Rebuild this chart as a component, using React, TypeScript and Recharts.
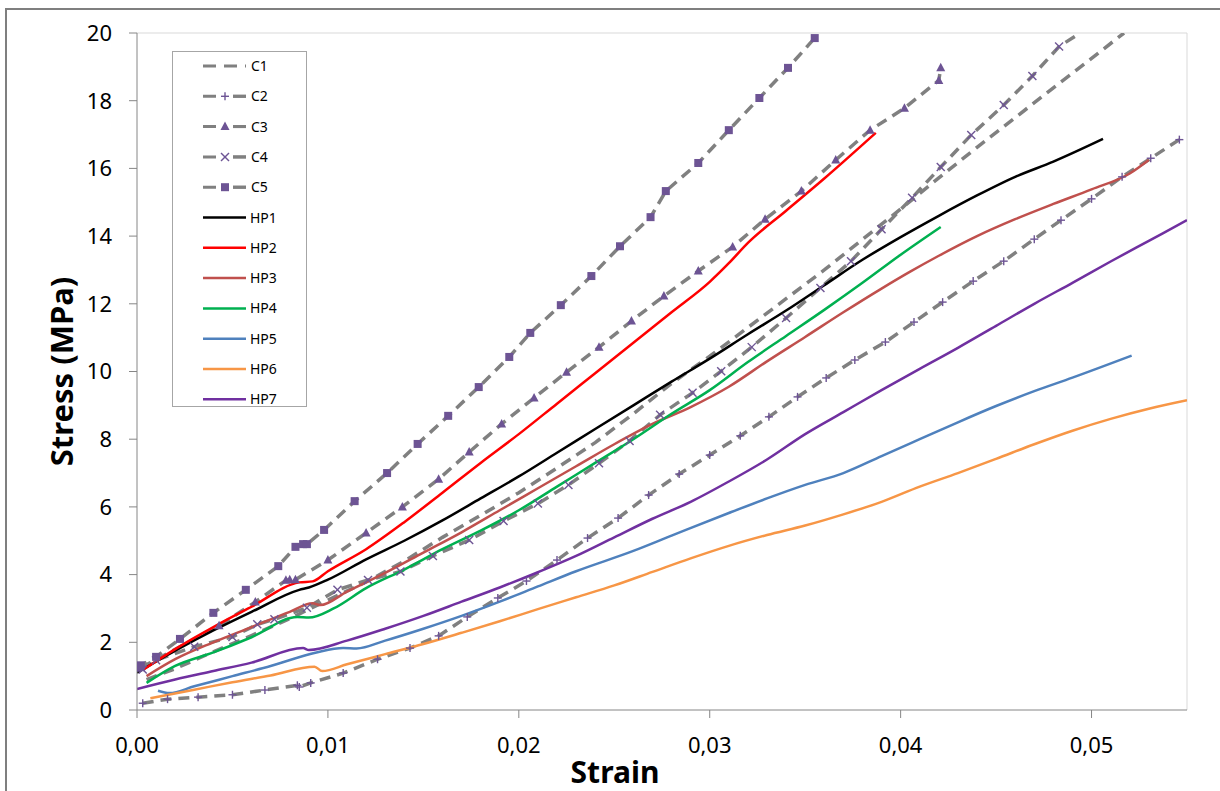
import React from "react"
import { LineChart, Line, XAxis, YAxis, Legend, ReferenceLine } from "recharts"

// strain / stress pairs
const C1 = [[0.0005, 0.9], [0.002, 1.22], [0.004, 1.72], [0.006, 2.2], [0.008, 2.7], [0.01, 3.25], [0.012, 3.78], [0.014, 4.4], [0.016, 5.1], [0.018, 5.75], [0.02, 6.42], [0.022, 7.15], [0.024, 7.9], [0.026, 8.75], [0.028, 9.65], [0.03, 10.45], [0.032, 11.3], [0.034, 12.15], [0.036, 13.0], [0.038, 13.9], [0.04, 14.8], [0.042, 15.72], [0.044, 16.62], [0.046, 17.5], [0.048, 18.38], [0.05, 19.25], [0.0517, 20]]
const C2 = [[0.0003, 0.2], [0.0016, 0.32], [0.0032, 0.38], [0.005, 0.45], [0.0067, 0.59], [0.0084, 0.73], [0.0085, 0.68], [0.0091, 0.8], [0.0108, 1.09], [0.0126, 1.5], [0.0143, 1.83], [0.0158, 2.19], [0.0173, 2.75], [0.0189, 3.31], [0.0204, 3.81], [0.022, 4.43], [0.0236, 5.08], [0.0252, 5.67], [0.0268, 6.35], [0.0284, 6.97], [0.03, 7.53], [0.0316, 8.1], [0.0331, 8.66], [0.0346, 9.25], [0.0361, 9.81], [0.0376, 10.34], [0.0392, 10.87], [0.0407, 11.46], [0.0422, 12.05], [0.0438, 12.67], [0.0454, 13.26], [0.047, 13.91], [0.0484, 14.47], [0.05, 15.1], [0.0516, 15.75], [0.0531, 16.3], [0.0546, 16.85]]
const C3 = [[0.0002, 1.25], [0.0043, 2.49], [0.0062, 3.19], [0.0078, 3.83], [0.008, 3.85], [0.0083, 3.85], [0.01, 4.43], [0.012, 5.23], [0.0139, 6.0], [0.0158, 6.82], [0.0174, 7.62], [0.0191, 8.45], [0.0208, 9.22], [0.0225, 9.98], [0.0242, 10.72], [0.0259, 11.49], [0.0276, 12.23], [0.0294, 12.97], [0.0312, 13.68], [0.0329, 14.5], [0.0348, 15.33], [0.0366, 16.25], [0.0384, 17.13], [0.0402, 17.78], [0.042, 18.6], [0.0421, 18.97]]
const C4 = [[0.0003, 1.2], [0.001, 1.47], [0.003, 1.87], [0.005, 2.16], [0.0063, 2.53], [0.0072, 2.68], [0.0089, 3.02], [0.0105, 3.55], [0.0121, 3.84], [0.0138, 4.09], [0.0155, 4.55], [0.0174, 5.02], [0.0192, 5.58], [0.021, 6.1], [0.0226, 6.65], [0.0242, 7.29], [0.0258, 7.95], [0.0274, 8.72], [0.0291, 9.37], [0.0306, 10.01], [0.0322, 10.72], [0.034, 11.58], [0.0358, 12.47], [0.0374, 13.26], [0.039, 14.2], [0.0406, 15.13], [0.0421, 16.04], [0.0437, 16.99], [0.0454, 17.87], [0.0469, 18.73], [0.0483, 19.6], [0.0494, 20]]
const C5 = [[0, 1.25], [0.0002, 1.32], [0.001, 1.57], [0.00225, 2.1], [0.004, 2.87], [0.0057, 3.55], [0.0074, 4.25], [0.0083, 4.82], [0.0087, 4.9], [0.0089, 4.9], [0.0098, 5.32], [0.0114, 6.17], [0.0131, 7.0], [0.0147, 7.86], [0.0163, 8.69], [0.0179, 9.54], [0.0195, 10.43], [0.0206, 11.14], [0.0222, 11.96], [0.0238, 12.82], [0.0253, 13.7], [0.0269, 14.56], [0.0277, 15.33], [0.0294, 16.16], [0.031, 17.13], [0.0326, 18.08], [0.0341, 18.97], [0.0355, 19.85]]

const HP1 = [[0, 1.1], [0.002, 1.75], [0.004, 2.35], [0.006, 2.9], [0.0085, 3.55], [0.009, 3.62], [0.01, 3.85], [0.012, 4.45], [0.014, 5.0], [0.016, 5.6], [0.018, 6.25], [0.02, 6.9], [0.022, 7.6], [0.024, 8.3], [0.026, 9.0], [0.028, 9.7], [0.03, 10.38], [0.032, 11.1], [0.034, 11.8], [0.036, 12.55], [0.038, 13.3], [0.04, 13.97], [0.042, 14.6], [0.044, 15.2], [0.046, 15.75], [0.048, 16.2], [0.0506, 16.87]]
const HP2 = [[0.0003, 1.18], [0.002, 1.8], [0.004, 2.45], [0.006, 3.05], [0.0085, 3.77], [0.0092, 3.8], [0.01, 4.1], [0.012, 4.75], [0.014, 5.55], [0.016, 6.42], [0.018, 7.3], [0.02, 8.15], [0.022, 9.05], [0.024, 9.95], [0.026, 10.85], [0.028, 11.75], [0.03, 12.65], [0.031, 13.2], [0.032, 13.8], [0.034, 14.75], [0.036, 15.7], [0.0387, 17.05]]
const HP3 = [[0.0005, 1.0], [0.002, 1.5], [0.004, 2.0], [0.006, 2.45], [0.008, 2.9], [0.0092, 3.15], [0.0096, 3.1], [0.011, 3.5], [0.013, 4.05], [0.015, 4.65], [0.017, 5.25], [0.019, 5.9], [0.021, 6.55], [0.023, 7.2], [0.025, 7.85], [0.027, 8.45], [0.029, 8.95], [0.031, 9.55], [0.033, 10.3], [0.035, 11.02], [0.037, 11.75], [0.039, 12.45], [0.0405, 12.95], [0.042, 13.42], [0.044, 14.0], [0.046, 14.5], [0.048, 14.95], [0.05, 15.38], [0.052, 15.85], [0.053, 16.25]]
const HP4 = [[0.0005, 0.8], [0.002, 1.3], [0.004, 1.7], [0.006, 2.15], [0.0084, 2.75], [0.009, 2.73], [0.0103, 3.0], [0.012, 3.6], [0.014, 4.15], [0.016, 4.75], [0.018, 5.3], [0.02, 5.9], [0.022, 6.6], [0.024, 7.3], [0.026, 8.0], [0.028, 8.75], [0.03, 9.45], [0.032, 10.28], [0.034, 11.05], [0.036, 11.82], [0.038, 12.62], [0.04, 13.45], [0.0421, 14.27]]
const HP5 = [[0.0011, 0.57], [0.0017, 0.5], [0.003, 0.7], [0.005, 1.0], [0.007, 1.3], [0.0094, 1.7], [0.0108, 1.83], [0.0115, 1.82], [0.013, 2.05], [0.015, 2.4], [0.017, 2.78], [0.019, 3.2], [0.021, 3.65], [0.023, 4.1], [0.026, 4.7], [0.028, 5.15], [0.031, 5.82], [0.033, 6.25], [0.035, 6.65], [0.037, 7.0], [0.039, 7.5], [0.041, 8.0], [0.043, 8.5], [0.045, 8.98], [0.047, 9.42], [0.049, 9.82], [0.0521, 10.47]]
const HP6 = [[0.0007, 0.35], [0.003, 0.6], [0.005, 0.82], [0.007, 1.02], [0.0093, 1.28], [0.0097, 1.15], [0.011, 1.35], [0.013, 1.65], [0.015, 1.95], [0.017, 2.28], [0.019, 2.62], [0.021, 2.98], [0.023, 3.33], [0.025, 3.68], [0.027, 4.08], [0.029, 4.48], [0.031, 4.85], [0.033, 5.17], [0.035, 5.45], [0.037, 5.78], [0.039, 6.15], [0.041, 6.6], [0.043, 7.0], [0.045, 7.42], [0.047, 7.85], [0.049, 8.25], [0.051, 8.6], [0.053, 8.9], [0.055, 9.15]]
const HP7 = [[0, 0.62], [0.002, 0.9], [0.004, 1.15], [0.006, 1.4], [0.0087, 1.83], [0.009, 1.77], [0.011, 2.05], [0.013, 2.4], [0.015, 2.78], [0.017, 3.2], [0.019, 3.62], [0.021, 4.07], [0.023, 4.55], [0.025, 5.1], [0.027, 5.65], [0.029, 6.15], [0.031, 6.75], [0.033, 7.4], [0.035, 8.15], [0.037, 8.8], [0.039, 9.45], [0.041, 10.08], [0.043, 10.7], [0.045, 11.35], [0.047, 12.0], [0.049, 12.62], [0.051, 13.25], [0.053, 13.86], [0.055, 14.47]]

const X_TICKS = [0, 0.01, 0.02, 0.03, 0.04, 0.05]
const Y_TICKS = [0, 2, 4, 6, 8, 10, 12, 14, 16, 18, 20]

const MARK = "#6D5494"
const DASH_GREY = "#808080"
const FONT = "'Noto Sans', 'Open Sans', sans-serif"

const toRows = (pts: number[][]) => pts.map(([x, y]) => ({ x, y }))

type Shape = "none" | "plus" | "tri" | "cross" | "square"

const dashed: { name: string; pts: number[][]; shape: Shape }[] = [
  { name: "C1", pts: C1, shape: "none" },
  { name: "C2", pts: C2, shape: "plus" },
  { name: "C3", pts: C3, shape: "tri" },
  { name: "C4", pts: C4, shape: "cross" },
  { name: "C5", pts: C5, shape: "square" },
]

const solid = [
  { name: "HP1", pts: HP1, color: "#000000" },
  { name: "HP2", pts: HP2, color: "#FF0000" },
  { name: "HP3", pts: HP3, color: "#C0504D" },
  { name: "HP4", pts: HP4, color: "#00B050" },
  { name: "HP5", pts: HP5, color: "#4F81BD" },
  { name: "HP6", pts: HP6, color: "#F79646" },
  { name: "HP7", pts: HP7, color: "#7030A0" },
]

function Marker({ shape, cx, cy }: { shape: Shape; cx: number; cy: number }) {
  if (shape === "square") return <rect x={cx - 4} y={cy - 4} width={8} height={8} fill={MARK} />
  if (shape === "tri")
    return <polygon points={`${cx},${cy - 5} ${cx + 4.5},${cy + 3.5} ${cx - 4.5},${cy + 3.5}`} fill={MARK} />
  if (shape === "cross")
    return (
      <g stroke={MARK} strokeWidth={1.4}>
        <line x1={cx - 4} y1={cy - 4} x2={cx + 4} y2={cy + 4} />
        <line x1={cx - 4} y1={cy + 4} x2={cx + 4} y2={cy - 4} />
      </g>
    )
  if (shape === "plus")
    return (
      <g stroke={MARK} strokeWidth={1.4}>
        <line x1={cx - 4} y1={cy} x2={cx + 4} y2={cy} />
        <line x1={cx} y1={cy - 4} x2={cx} y2={cy + 4} />
      </g>
    )
  return null
}

const dotFor = (shape: Shape) => (props: any) => {
  const { cx, cy, index, payload } = props
  if (cx == null || cy == null || payload?.y >= 20) return <g key={`d${index}`} />
  return (
    <g key={`d${index}`}>
      <Marker shape={shape} cx={cx} cy={cy} />
    </g>
  )
}

function LegendBox() {
  const rowH = 30.3
  return (
    <div
      style={{
        width: 135,
        height: 356,
        border: "1px solid #a6a6a6",
        background: "#fff",
        boxSizing: "border-box",
        position: "relative",
      }}
    >
      <svg width={135} height={356} style={{ position: "absolute", left: 0, top: 0 }}>
        {dashed.map((d, i) => {
          const y = 14 + i * rowH
          return (
            <g key={d.name}>
              <line x1={30} y1={y} x2={73} y2={y} stroke={DASH_GREY} strokeWidth={3} strokeDasharray={d.shape === "none" ? "13 8" : "13 17"} />
              {d.shape !== "none" && <line x1={60} y1={y} x2={73} y2={y} stroke={DASH_GREY} strokeWidth={3} />}
              <Marker shape={d.shape} cx={52} cy={y} />
              <text x={78} y={y + 5} fontSize={14} fontFamily={FONT} fill="#000">{d.name}</text>
            </g>
          )
        })}
        {solid.map((s, i) => {
          const y = 14 + (i + 5) * rowH
          return (
            <g key={s.name}>
              <line x1={30} y1={y} x2={73} y2={y} stroke={s.color} strokeWidth={2.5} />
              <text x={77} y={y + 5} fontSize={14} fontFamily={FONT} fill="#000">{s.name}</text>
            </g>
          )
        })}
      </svg>
    </div>
  )
}

export default function App() {
  return (
    <div style={{ position: "absolute", left: 0, top: 0, width: 1220, height: 791, overflow: "hidden", background: "#fff" }}>
      <div style={{ position: "absolute", left: 5, top: 8, width: 1240, height: 820, border: "2px solid #7f7f7f" }} />
      <LineChart width={1220} height={791} margin={{ top: 33, right: 33, left: 0, bottom: 0 }}>
        <XAxis
          type="number"
          dataKey="x"
          domain={[0, 0.055]}
          ticks={X_TICKS}
          allowDataOverflow
          height={81}
          tickSize={8}
          tickMargin={19}
          tickFormatter={(v: number) => v.toFixed(2).replace(".", ",")}
          tick={{ fontSize: 22, fill: "#000", fontFamily: FONT }}
          axisLine={{ stroke: "#868686" }}
          tickLine={{ stroke: "#868686" }}
          label={{
            content: ({ viewBox }: any) => (
              <text x={viewBox.x + viewBox.width / 2 - 47} y={783} textAnchor="middle" fontSize={30} fontWeight="bold" fontFamily={FONT} fill="#000">
                Strain
              </text>
            ),
          }}
        />
        <YAxis
          type="number"
          domain={[0, 20]}
          ticks={Y_TICKS}
          allowDataOverflow
          width={137}
          tickSize={8}
          tickMargin={17}
          tick={{ fontSize: 22, fill: "#000", fontFamily: FONT }}
          axisLine={{ stroke: "#868686" }}
          tickLine={{ stroke: "#868686" }}
          label={{
            content: ({ viewBox }: any) => {
              const cy = viewBox.y + viewBox.height / 2
              return (
                <text x={73} y={cy} transform={`rotate(-90 73 ${cy})`} textAnchor="middle" fontSize={31} fontWeight="bold" fontFamily={FONT} fill="#000">
                  Stress (MPa)
                </text>
              )
            },
          }}
        />
        <ReferenceLine y={20} stroke="#d9d9d9" strokeWidth={1} />
        <ReferenceLine x={0.055} stroke="#d9d9d9" strokeWidth={1} />
        {dashed.map(d => (
          <Line
            key={d.name}
            data={toRows(d.pts)}
            dataKey="y"
            name={d.name}
            type="linear"
            stroke={DASH_GREY}
            strokeWidth={3.5}
            strokeDasharray="11 7"
            dot={d.shape === "none" ? false : dotFor(d.shape)}
            activeDot={false}
            isAnimationActive={false}
          />
        ))}
        {solid.map(s => (
          <Line
            key={s.name}
            data={toRows(s.pts)}
            dataKey="y"
            name={s.name}
            type="monotone"
            stroke={s.color}
            strokeWidth={2.5}
            dot={false}
            activeDot={false}
            isAnimationActive={false}
          />
        ))}
        <Legend
          layout="vertical"
          align="center"
          verticalAlign="middle"
          wrapperStyle={{ position: "absolute", left: 172, top: 51, width: 135, height: 356 }}
          content={() => <LegendBox />}
        />
      </LineChart>
    </div>
  )
}
